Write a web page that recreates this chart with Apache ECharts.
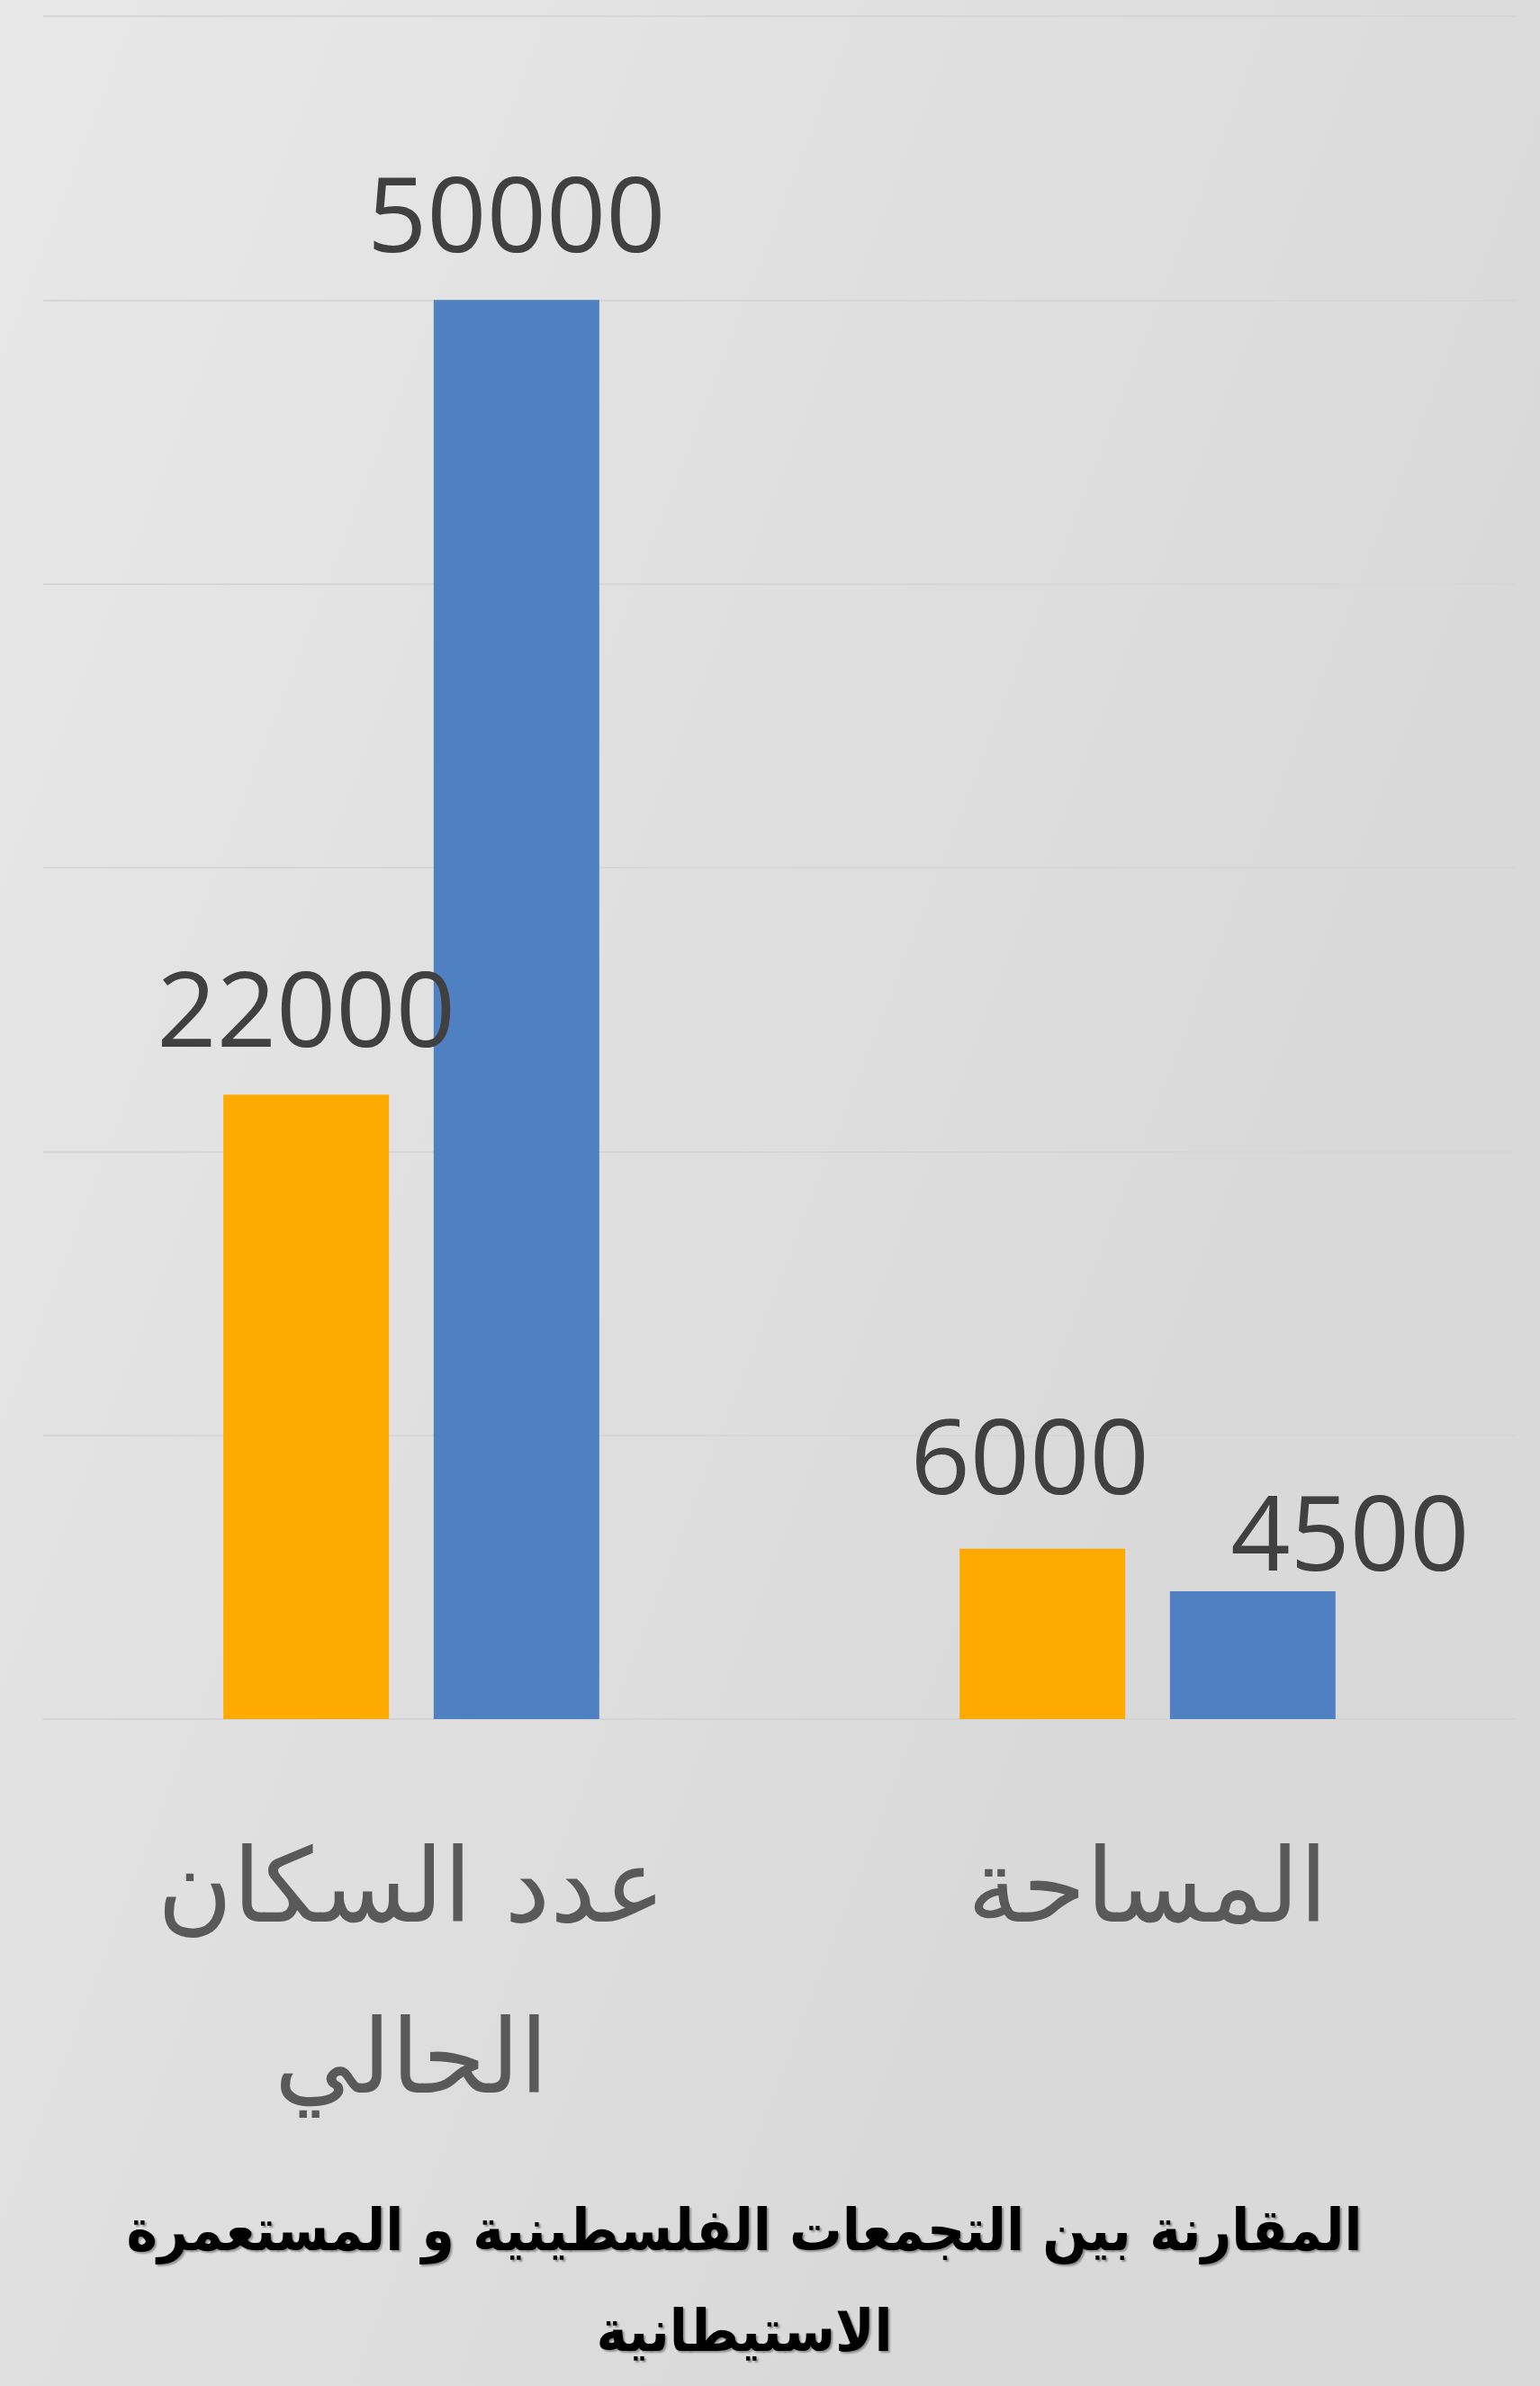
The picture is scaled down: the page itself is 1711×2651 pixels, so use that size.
<!DOCTYPE html>
<html><head><meta charset="utf-8">
<script src="https://cdn.jsdelivr.net/npm/echarts@6/dist/echarts.min.js"></script>
<style>html,body{margin:0;padding:0;background:#e2e2e2;}#c{width:1711px;height:2651px;}</style>
</head><body><div id="c"></div>
<script>
const categories = ['عدد السكان الحالي', 'المساحة'];
const seriesNames = ['التجمعات الفلسطينية', 'المستعمرة الاستيطانية'];
const palestinianValues = [22000, 6000];
const settlementValues = [50000, 4500];
const yTicks = [0, 10000, 20000, 30000, 40000, 50000, 60000];
const titleText = 'المقارنة بين التجمعات الفلسطينية و المستعمرة الاستيطانية';

const chart = echarts.init(document.getElementById('c'), null, {renderer: 'canvas'});
const labelStyle = {
  show: true, position: 'top', distance: 28,
  fontFamily: 'Open Sans', fontSize: 116, color: '#404040'
};
// per-point label nudges (style only)
const settlementLabelNudge = [null, {offset: [108, 30]}];
const palestinianLabelNudge = [null, {offset: [-14, -8]}];

function withNudges(values, nudges) {
  return values.map((v, i) => nudges[i] ? {value: v, label: nudges[i]} : v);
}

chart.setOption({
  backgroundColor: {
    type: 'linear', x: 0, y: 0, x2: 1, y2: 0.25,
    colorStops: [{offset: 0, color: '#e8e8e8'}, {offset: 1, color: '#d9d9d9'}]
  },
  animation: false,
  title: {
    text: titleText.replace(/ (\S+)$/, '\n$1'),
    left: 822, top: 2422, textAlign: 'center',
    textStyle: {
      fontFamily: '"DejaVu Sans Condensed", "DejaVu Sans"', fontWeight: 'bold', fontSize: 65, color: '#000',
      lineHeight: 112,
      textShadowColor: 'rgba(0,0,0,0.35)', textShadowOffsetX: 2, textShadowOffsetY: 2, textShadowBlur: 2
    }
  },
  grid: {left: 48, right: 27, top: 18, bottom: 741, containLabel: false},
  xAxis: {
    type: 'category', data: categories,
    axisLine: {show: true, lineStyle: {color: '#d4d4d4', width: 2}},
    axisTick: {show: false},
    axisLabel: {
      interval: 0, margin: 100,
      fontFamily: 'DejaVu Sans', fontSize: 114, color: '#595959', lineHeight: 190,
      formatter: v => { const w = v.split(' '); return w.length > 2 ? w.slice(0, -1).join(' ') + '\n' + w[w.length - 1] : v; }
    }
  },
  yAxis: {
    type: 'value', min: yTicks[0], max: yTicks[yTicks.length - 1], interval: yTicks[1] - yTicks[0],
    axisLine: {show: false}, axisTick: {show: false}, axisLabel: {show: false},
    splitLine: {show: true, lineStyle: {color: '#d6d6d6', width: 2}}
  },
  series: [
    {
      name: seriesNames[0], type: 'bar', data: withNudges(palestinianValues, palestinianLabelNudge),
      barWidth: 184, barGap: '27%',
      itemStyle: {color: '#FFAA00'}, label: labelStyle
    },
    {
      name: seriesNames[1], type: 'bar', data: withNudges(settlementValues, settlementLabelNudge),
      barWidth: 184, barGap: '27%',
      itemStyle: {color: '#4F81C2'}, label: labelStyle
    }
  ]
});
</script></body></html>
